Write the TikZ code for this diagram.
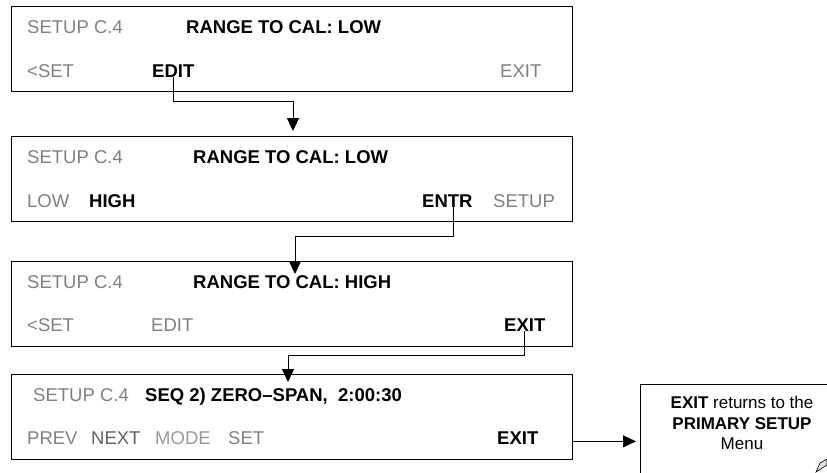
\documentclass[tikz,border=0pt]{standalone}
\usepackage{fontspec}
\setmainfont{Liberation Sans}
\usetikzlibrary{arrows.meta}
\definecolor{dimgray}{RGB}{128,128,128}

\begin{document}
\begin{tikzpicture}[x=1pt,y=-1pt,
  screen/.style={draw,line width=1pt,anchor=north west,minimum width=561pt,minimum height=85pt,inner sep=0pt},
  dim/.style={anchor=base west,inner sep=0pt,text=dimgray,font=\fontsize{18.5}{22}\selectfont},
  key/.style={anchor=base west,inner sep=0pt,font=\fontsize{18.5}{22}\selectfont\bfseries},
  flowline/.style={draw=black,line width=0.9pt,-{Triangle[length=13pt,width=12pt]}},
  notebox/.style={draw,line width=1pt,anchor=north west,minimum width=220pt,minimum height=110pt},
  notetext/.style={align=center,inner sep=0pt,font=\fontsize{17}{20.5}\selectfont}]

  \useasboundingbox (0,0) rectangle (827,472);

  % Range to cal: low
  \node[screen] (box1) at (11,6) {};
  \node[dim] (title1) at (27,33) {SETUP C.4};
  \node[key] (msg1) at (186,33) {RANGE TO CAL: LOW};
  \node[dim] (set1) at (27,77) {<SET};
  \node[key] (edit1) at (152,77) {EDIT};
  \node[dim] (exit1) at (500,77) {EXIT};

  % Choose high
  \node[screen] (box2) at (11,136) {};
  \node[dim] (title2) at (27,163) {SETUP C.4};
  \node[key] (msg2) at (193,163) {RANGE TO CAL: LOW};
  \node[dim] (low2) at (27,207) {LOW};
  \node[key] (high2) at (89,207) {HIGH};
  \node[key] (entr2) at (422,207) {ENTR};
  \node[dim] (setup2) at (493,207) {SETUP};

  % Range to cal: high
  \node[screen] (box3) at (11,261) {};
  \node[dim] (title3) at (27,288) {SETUP C.4};
  \node[key] (msg3) at (193,288) {RANGE TO CAL: HIGH};
  \node[dim] (set3) at (27,331) {<SET};
  \node[dim] (edit3) at (151,331) {EDIT};
  \node[key] (exit3) at (504,331) {EXIT};

  % Back in the sequence
  \node[screen] (box4) at (11,374) {};
  \node[dim] (title4) at (33,401) {SETUP C.4};
  \node[key] (msg4) at (145,401) {SEQ 2) ZERO–SPAN,\ \ 2:00:30};
  \node[dim] (prev4) at (27,444) {PREV};
  \node[dim,text=black!62] (next4) at (91,444) {NEXT};
  \node[dim,text=black!40] (mode4) at (155,444) {MODE};
  \node[dim] (set4) at (228,444) {SET};
  \node[key] (exit4) at (497,444) {EXIT};

  \node[notebox] (note) at (640,384) {};
  \node[notetext] (notetxt) at (742,423) {\textbf{EXIT} returns to the\\\textbf{PRIMARY SETUP}\\Menu};
  \filldraw[fill=gray!25,line width=0.6pt] (816,472) -- (820,463) -- (827,459) -- (827,465) -- cycle;

  \coordinate (turn1) at (293,101);
  \coordinate (tip1) at (293,131);
  \coordinate (turn2) at (295,236);
  \coordinate (tip2) at (295,274);
  \coordinate (turn3) at (288,355);
  \coordinate (tip3) at (288,382);

  \draw[flowline] (edit1.south) |- (turn1) -- (tip1);
  \draw[flowline] ([xshift=6pt]entr2.south) |- (turn2) -- (tip2);
  \draw[flowline] (exit3.south) |- (turn3) -- (tip3);
  \draw[flowline,shorten >=4pt] (box4.east |- exit4.mid) -- (note.west |- exit4.mid);

\end{tikzpicture}
\end{document}
